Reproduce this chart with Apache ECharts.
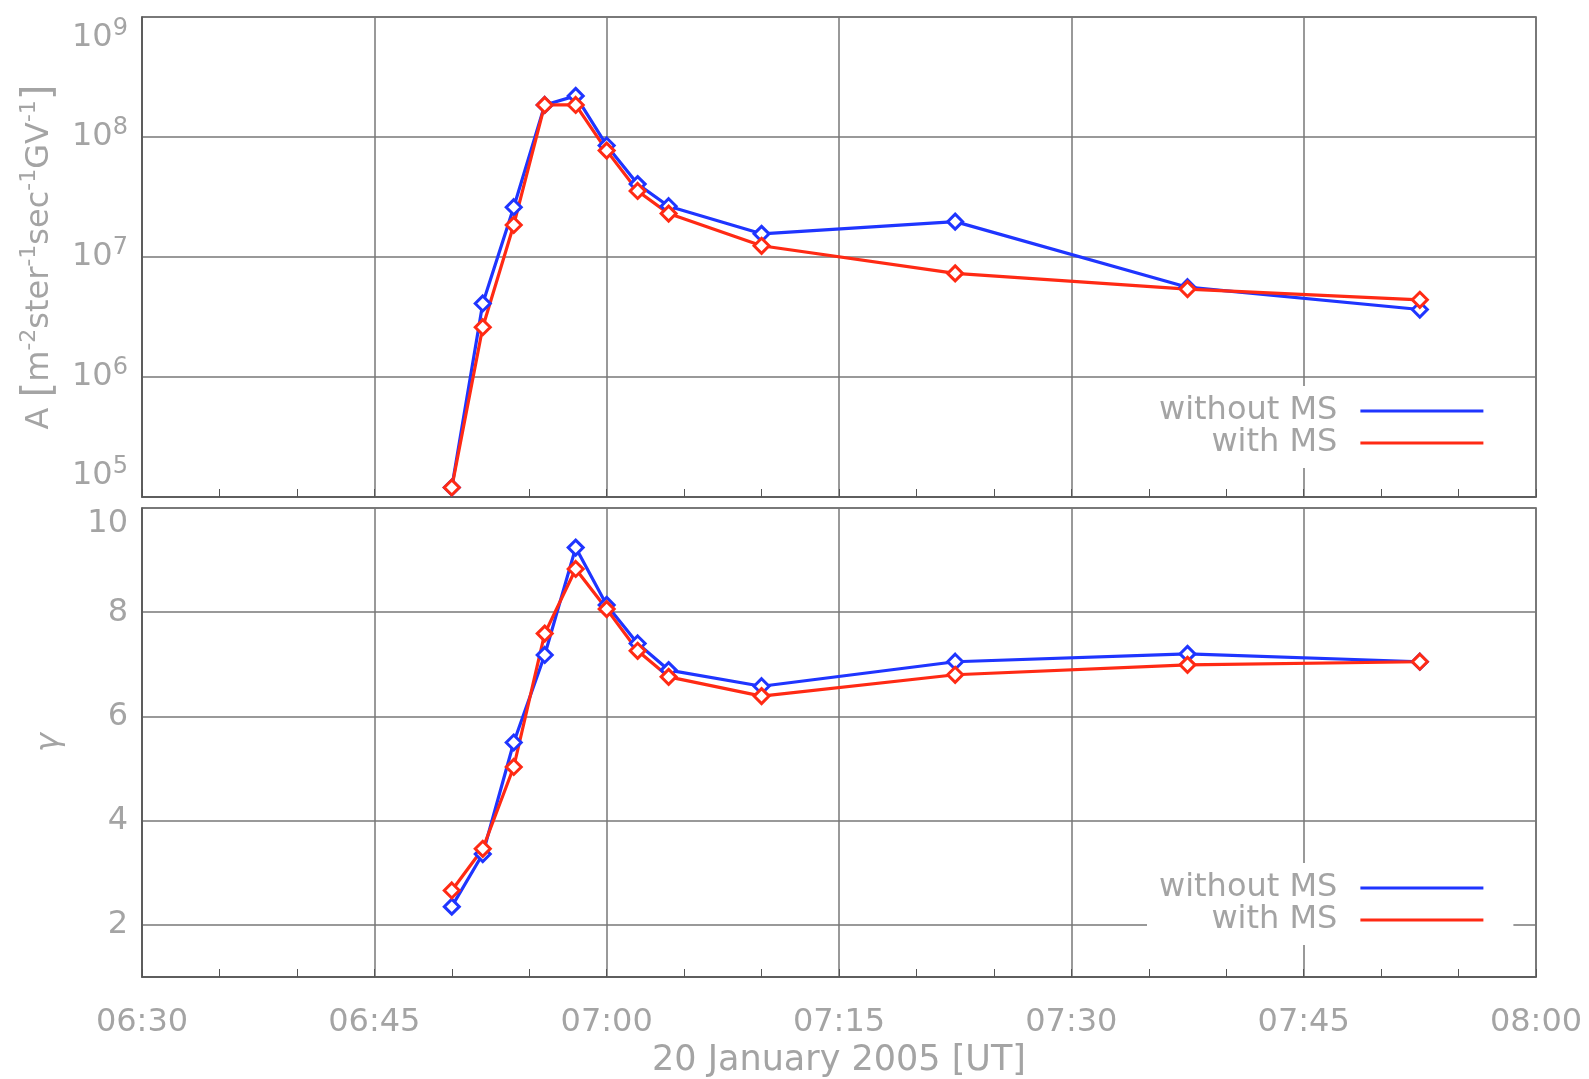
<!DOCTYPE html>
<html><head><meta charset="utf-8">
<script src="https://cdn.jsdelivr.net/npm/echarts@6/dist/echarts.min.js"></script>
<style>html,body{margin:0;padding:0;background:#fff}#c{width:1589px;height:1079px}</style>
</head><body><div id="c"></div>
<script>
// Time in minutes after midnight (20 January 2005, UT)
const times = [410, 412, 414, 416, 418, 420, 422, 424, 430, 442.5, 457.5, 472.5];
// Amplitude A [m^-2 ster^-1 sec^-1 GV^-1]
const ampWithout = [1.2e5, 4.1e6, 2.6e7, 1.85e8, 2.2e8, 8.5e7, 4.05e7, 2.65e7, 1.56e7, 1.97e7, 5.6e6, 3.65e6];
const ampWith    = [1.2e5, 2.6e6, 1.85e7, 1.85e8, 1.85e8, 7.7e7, 3.55e7, 2.3e7, 1.24e7, 7.3e6, 5.4e6, 4.4e6];
// Spectral index gamma
const gammaWithout = [2.35, 3.36, 5.5, 7.18, 9.24, 8.14, 7.40, 6.89, 6.58, 7.05, 7.20, 7.05];
const gammaWith    = [2.66, 3.46, 5.03, 7.59, 8.83, 8.06, 7.26, 6.76, 6.39, 6.80, 6.99, 7.05];
const seriesNames = ['without MS', 'with MS'];
const xTitle = '20 January 2005 [UT]';
const xRange = [390, 480];
const ampRange = [1e5, 1e9];
const gammaRange = [1, 10];

const F = 'DejaVu Sans';
const LBL = '#a4a4a4';
const AX = '#555';
const GRD = '#777';
const BLUE = '#1f35ff';
const RED = '#ff2a14';

function hhmm(v) {
  const h = Math.floor(v / 60), m = Math.round(v - h * 60);
  return String(h).padStart(2, '0') + ':' + String(m).padStart(2, '0');
}
function xAxisCfg(gi, showLabels) {
  return {
    type: 'value', gridIndex: gi, min: xRange[0], max: xRange[1], interval: 15,
    axisLine: {show: true, lineStyle: {color: AX, width: 1.5}},
    axisTick: {show: true, inside: true, length: 8, lineStyle: {color: AX}},
    minorTick: {show: true, splitNumber: 3, length: 8, lineStyle: {color: AX, width: 1}},
    splitLine: {show: true, lineStyle: {color: GRD, width: 1.5}},
    axisLabel: {show: showLabels, formatter: hhmm, color: LBL, fontFamily: F, fontSize: 32, margin: 30},
    name: showLabels ? xTitle : '', nameLocation: 'middle', nameGap: 66,
    nameTextStyle: {color: LBL, fontFamily: F, fontSize: 35}
  };
}
function legendCfg(top) {
  return {
    orient: 'vertical', left: 1147, top: top, align: 'right', selectedMode: false,
    backgroundColor: '#fff', padding: [9, 30, 9, 12], itemGap: 0,
    itemWidth: 123, itemHeight: 3, icon: 'rect',
    textStyle: {fontFamily: F, fontSize: 32, color: LBL, lineHeight: 32, padding: [0, 18, 0, 0]},
    data: [
      {name: seriesNames[0], itemStyle: {color: BLUE, borderWidth: 0}},
      {name: seriesNames[1], itemStyle: {color: RED, borderWidth: 0}}
    ]
  };
}
function lineSeries(name, color, xi, yi, ys) {
  return {
    type: 'line', name: name, xAxisIndex: xi, yAxisIndex: yi,
    data: times.map((t, i) => [t, ys[i]]),
    symbol: 'diamond', symbolSize: 15, showSymbol: true,
    lineStyle: {color: color, width: 3.2},
    itemStyle: {color: '#fff', borderColor: color, borderWidth: 3},
    emphasis: {disabled: true}
  };
}

const chart = echarts.init(document.getElementById('c'));
chart.setOption({
  animation: false,
  backgroundColor: '#fff',
  grid: [
    {left: 142, top: 17, width: 1394, height: 480, show: true, borderColor: AX, borderWidth: 1.5},
    {left: 142, top: 508, width: 1394, height: 469, show: true, borderColor: AX, borderWidth: 1.5}
  ],
  xAxis: [xAxisCfg(0, false), xAxisCfg(1, true)],
  yAxis: [
    {
      type: 'log', gridIndex: 0, min: ampRange[0], max: ampRange[1], logBase: 10,
      axisLine: {show: true, lineStyle: {color: AX, width: 1.5}},
      axisTick: {show: false},
      splitLine: {show: true, lineStyle: {color: GRD, width: 1.5}},
      axisLabel: {
        margin: 14, color: LBL, fontFamily: F,
        verticalAlignMaxLabel: 'top', verticalAlignMinLabel: 'bottom',
        formatter: v => '{b|10}{s|' + Math.round(Math.log10(v)) + '}',
        rich: {
          b: {fontSize: 32, lineHeight: 42, color: LBL, fontFamily: F},
          s: {fontSize: 24, lineHeight: 24, verticalAlign: 'top', color: LBL, fontFamily: F}
        }
      },
      name: '{n|A }{k|[}{n|m}{s|-2}{n|ster}{s|-1}{n|sec}{s|-1}{n|GV}{s|-1}{k|]}',
      nameLocation: 'middle', nameGap: 80,
      nameTextStyle: {
        rich: {
          n: {fontSize: 32, lineHeight: 44, color: LBL, fontFamily: F},
          k: {fontSize: 40, lineHeight: 44, color: LBL, fontFamily: F},
          s: {fontSize: 22, lineHeight: 24, verticalAlign: 'top', color: LBL, fontFamily: F}
        }
      }
    },
    {
      type: 'value', gridIndex: 1, min: gammaRange[0], max: gammaRange[1], splitNumber: 5,
      axisLine: {show: true, lineStyle: {color: AX, width: 1.5}},
      axisTick: {show: false},
      splitLine: {show: true, lineStyle: {color: GRD, width: 1.5}},
      axisLabel: {
        margin: 14, color: LBL, fontFamily: F, fontSize: 32,
        verticalAlignMaxLabel: 'top',
        formatter: v => (v === gammaRange[0] ? '' : String(v))
      },
      name: 'γ', nameLocation: 'middle', nameGap: 76,
      nameTextStyle: {color: LBL, fontFamily: F, fontSize: 32, fontStyle: 'italic'}
    }
  ],
  legend: [legendCfg(386), legendCfg(863)],
  series: [
    lineSeries(seriesNames[0], BLUE, 0, 0, ampWithout),
    lineSeries(seriesNames[1], RED, 0, 0, ampWith),
    lineSeries(seriesNames[0], BLUE, 1, 1, gammaWithout),
    lineSeries(seriesNames[1], RED, 1, 1, gammaWith)
  ]
});
</script></body></html>
